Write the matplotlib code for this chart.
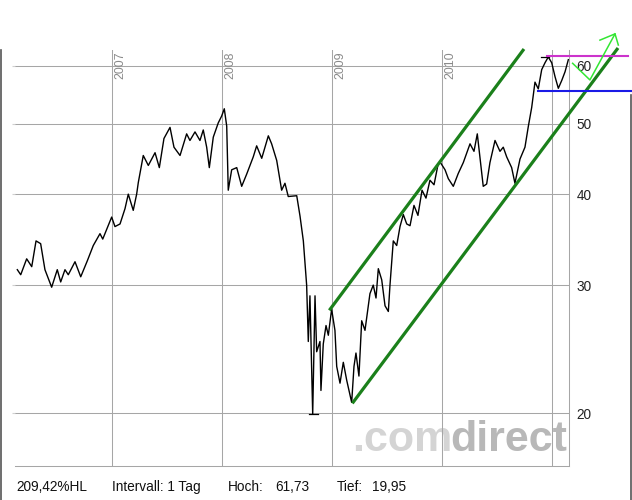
import matplotlib
matplotlib.use('Agg')
import matplotlib.pyplot as plt
from matplotlib.lines import Line2D

# ---- price series (decimal year, price) ----
years = [2006.140, 2006.171, 2006.225, 2006.271, 2006.310, 2006.352, 2006.391, 2006.452,
         2006.503, 2006.534, 2006.573, 2006.603, 2006.664, 2006.716, 2006.776, 2006.830,
         2006.891, 2006.916, 2006.997, 2007.027, 2007.073, 2007.118, 2007.148, 2007.193,
         2007.224, 2007.239, 2007.284, 2007.330, 2007.391, 2007.430, 2007.472, 2007.527,
         2007.563, 2007.618, 2007.678, 2007.708, 2007.754, 2007.799, 2007.829, 2007.860,
         2007.884, 2007.920, 2007.965, 2007.996, 2008.020, 2008.042, 2008.056, 2008.087,
         2008.133, 2008.178, 2008.223, 2008.283, 2008.314, 2008.360, 2008.420, 2008.450,
         2008.496, 2008.541, 2008.571, 2008.601, 2008.678, 2008.708, 2008.738, 2008.768,
         2008.783, 2008.798, 2008.823, 2008.844, 2008.859, 2008.889, 2008.898, 2008.919,
         2008.944, 2008.965, 2008.995, 2009.025, 2009.041, 2009.071, 2009.101, 2009.132,
         2009.177, 2009.198, 2009.216, 2009.243, 2009.268, 2009.298, 2009.343, 2009.373,
         2009.398, 2009.419, 2009.450, 2009.480, 2009.510, 2009.525, 2009.555, 2009.586,
         2009.616, 2009.646, 2009.677, 2009.707, 2009.743, 2009.779, 2009.816, 2009.852,
         2009.888, 2009.925, 2009.961, 2009.979, 2010.025, 2010.055, 2010.100, 2010.145,
         2010.191, 2010.252, 2010.288, 2010.318, 2010.342, 2010.372, 2010.403, 2010.433,
         2010.479, 2010.524, 2010.554, 2010.585, 2010.630, 2010.660, 2010.706, 2010.751,
         2010.781, 2010.812, 2010.842, 2010.872, 2010.903, 2010.933, 2010.963, 2010.994,
         2011.024, 2011.054, 2011.085, 2011.115, 2011.145]
prices = [31.5, 31.0, 32.6, 31.8, 34.5, 34.2, 31.5, 29.8,
          31.5, 30.3, 31.5, 31.0, 32.3, 30.8, 32.4, 34.0,
          35.3, 34.7, 37.2, 36.1, 36.4, 38.2, 40.0, 38.0,
          40.0, 41.5, 45.2, 43.8, 45.6, 43.5, 47.7, 49.4,
          46.4, 45.2, 48.4, 47.4, 48.7, 47.4, 49.0, 46.4,
          43.5, 47.9, 50.1, 51.2, 52.4, 49.6, 40.5, 43.2,
          43.5, 41.0, 42.6, 45.0, 46.6, 44.8, 48.1, 46.9,
          44.5, 40.5, 41.4, 39.7, 39.8, 37.3, 34.5, 30.0,
          25.1, 29.0, 19.95, 29.0, 24.3, 25.1, 21.5, 24.9,
          26.4, 25.6, 27.8, 26.0, 23.2, 22.0, 23.5, 22.2,
          20.7, 23.2, 24.2, 22.5, 26.8, 26.0, 29.2, 30.0,
          28.8, 31.6, 30.5, 28.1, 27.6, 30.0, 34.5, 34.0,
          36.1, 37.5, 36.4, 36.2, 38.6, 37.4, 40.5, 39.5,
          41.8, 41.2, 43.9, 44.3, 43.2, 42.0, 41.0, 42.7,
          44.2, 46.9, 45.8, 48.4, 45.0, 41.0, 41.3, 44.2,
          47.4, 45.8, 46.4, 45.0, 43.5, 41.4, 44.7, 46.4,
          49.5, 52.6, 57.0, 55.8, 59.3, 60.6, 61.73, 60.6,
          58.0, 55.9, 57.3, 58.9, 61.2]

year_ticks = [2007, 2008, 2009, 2010, 2011]
year_labels = ['2007', '2008', '2009', '2010', '']
price_ticks = [20, 30, 40, 50, 60]
price_labels = ['20', '30', '40', '50', '60']

high_value = 61.73
low_value = 19.95
high_span = [2010.900, 2010.965]
low_span = [2008.785, 2008.870]

# drawn trend lines
upper_x = [2008.974, 2010.742]
upper_y = [27.7, 63.3]
lower_x = [2009.183, 2011.596]
lower_y = [20.64, 63.5]
blue_x = [2010.869, 2011.723]
blue_y = [55.4, 55.4]
pink_x = [2010.948, 2011.687]
pink_y = [61.9, 61.9]
arrow_x = [2011.184, 2011.341, 2011.569]
arrow_y = [60.5, 57.4, 66.4]
head_x = [2011.432, 2011.569, 2011.599]
head_y = [65.1, 66.4, 64.1]

footer = [('209,42%HL', 16), ('Intervall: 1 Tag', 112), ('Hoch:', 228),
          ('61,73', 275), ('Tief:', 337), ('19,95', 372)]

W, H = 632, 500
fig = plt.figure(figsize=(W / 100, H / 100), dpi=100)
fig.patch.set_facecolor('white')
ax = fig.add_axes([15 / W, 34 / H, 554 / W, 416 / H])
ax.set_facecolor('white')

ax.plot(years, prices, color='black', lw=1.0, zorder=3)
ax.plot(low_span, [low_value, low_value], color='black', lw=0.9, zorder=3)
ax.plot(high_span, [high_value, high_value], color='black', lw=0.9, zorder=3)

ax.set_yscale('log')
ax.set_ylim(16.93, 63.1)
ax.set_xlim(2006.119, 2011.151)
ax.set_yticks(price_ticks)
ax.set_yticklabels(price_labels)
ax.yaxis.set_minor_locator(matplotlib.ticker.NullLocator())
ax.set_xticks(year_ticks)
ax.set_xticklabels([])
ax.tick_params(axis='x', length=0)
ax.tick_params(axis='y', left=True, right=False, labelleft=False, labelright=True,
               length=2.5, color='#d0d0d0', pad=3, labelsize=9.8, labelcolor='#222222')
for lbl in ax.get_yticklabels():
    lbl.set_fontfamily('Liberation Sans')

ax.grid(True, color='#a6a6a6', lw=0.75, zorder=1)
for s in ['top', 'left']:
    ax.spines[s].set_visible(False)
for s in ['bottom', 'right']:
    ax.spines[s].set_color('#a6a6a6')
    ax.spines[s].set_linewidth(0.75)

for yv, lab in zip(year_ticks, year_labels):
    if lab:
        ax.text(yv + 0.018, 0.996, lab, transform=ax.get_xaxis_transform(), rotation=90,
                ha='left', va='top', fontsize=8.9, color='#8a8a8a', family='Liberation Sans')

# watermark
ax.text(0.608, 0.035, '.com', transform=ax.transAxes, fontsize=31, fontweight='bold',
        color='#d4d4d4', family='Liberation Sans', ha='left', va='baseline', zorder=0)
ax.text(0.785, 0.035, 'direct', transform=ax.transAxes, fontsize=31, fontweight='bold',
        color='#b8b8b8', family='Liberation Sans', ha='left', va='baseline', zorder=0)

# drawn lines
ax.plot(upper_x, upper_y, color='#1b801b', lw=2.3, clip_on=False, zorder=4, solid_capstyle='butt')
ax.plot(lower_x, lower_y, color='#1b801b', lw=2.3, clip_on=False, zorder=4, solid_capstyle='butt')
ax.plot(blue_x, blue_y, color='#1a1ae6', lw=1.5, clip_on=False, zorder=4)
ax.plot(pink_x, pink_y, color='#cc33cc', lw=1.5, clip_on=False, zorder=4)
ax.plot(arrow_x, arrow_y, color='#33e633', lw=1.1, clip_on=False, zorder=5)
ax.plot(head_x, head_y, color='#33e633', lw=1.1, clip_on=False, zorder=5)

# footer text
for txt, xp in footer:
    fig.text(xp / W, (H - 487) / H, txt, fontsize=9.8, family='Liberation Sans',
             color='#111111', ha='left', va='center')

# frame lines
fig.add_artist(Line2D([0.8 / W, 0.8 / W], [0, (H - 50) / H], color='#555555', lw=1.2))
fig.add_artist(Line2D([(W - 1.2) / W, (W - 1.2) / W], [0, (H - 95) / H], color='#555555', lw=1.2))

fig.savefig('out.png', dpi=100, facecolor='white')
